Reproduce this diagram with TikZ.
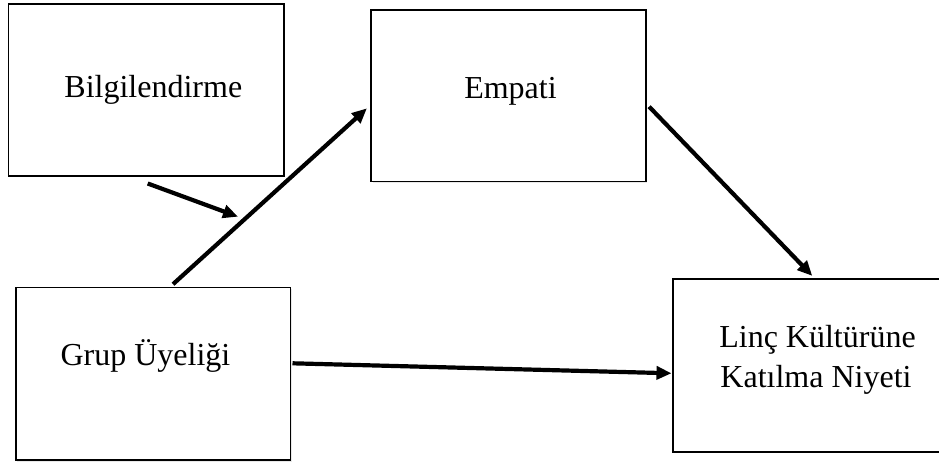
\documentclass[tikz,border=0pt]{standalone}
\usepackage{fontspec}
\setmainfont{Liberation Serif}
\usetikzlibrary{arrows.meta,shadows}
\begin{document}
\begin{tikzpicture}[x=1pt,y=1pt,
  box/.style={draw=black, line width=1.6pt, fill=white, inner sep=0pt,
    drop shadow={opacity=0.18, shadow xshift=1.5pt, shadow yshift=-1.5pt}},
  lbl/.style={font=\fontsize{32}{40}\selectfont, anchor=base, inner sep=0pt},
  arr/.style={line width=4.2pt, -{Triangle[length=15pt,width=13pt]}}]
\useasboundingbox (0,0) rectangle (939,466);
\fill[white] (0,0) rectangle (939,466);
% boxes
\node[box, minimum width=275.4pt, minimum height=172pt] (bilg) at (146,376) {};
\node[box, minimum width=274.7pt, minimum height=171.7pt] (empati) at (508.35,370.15) {};
\node[box, minimum width=274.6pt, minimum height=172.3pt] (grup) at (153,92.15) {};
\node[box, minimum width=275pt, minimum height=172.4pt] (linc) at (810.2,100.5) {};
% labels
\node[lbl] (tb) at (153.3,368) {Bilgilendirme};
\node[lbl] (te) at (510.5,367.7) {Empati};
\node[lbl] (tg) at (145.5,101) {Grup Üyeliği};
\node[lbl] (tl1) at (817.5,118.7) {Linç Kültürüne};
\node[lbl] (tl2) at (816,78.7) {Katılma Niyeti};
% arrows
\coordinate (mod) at (238,249.3);
\draw[arr] ([xshift=20pt,yshift=2.7pt]grup.north) -- ([xshift=-3.3pt,yshift=-12.5pt]empati.west);
\draw[arr] ([xshift=1.7pt,yshift=-6.7pt]bilg.south) -- (mod);
\draw[arr] ([xshift=2.6pt,yshift=-10.8pt]empati.east) -- ([xshift=2.1pt,yshift=2.6pt]linc.north);
\draw[arr] ([xshift=1.4pt,yshift=10.55pt]grup.east) -- ([xshift=-0.4pt,yshift=-7.8pt]linc.west);
\end{tikzpicture}
\end{document}
